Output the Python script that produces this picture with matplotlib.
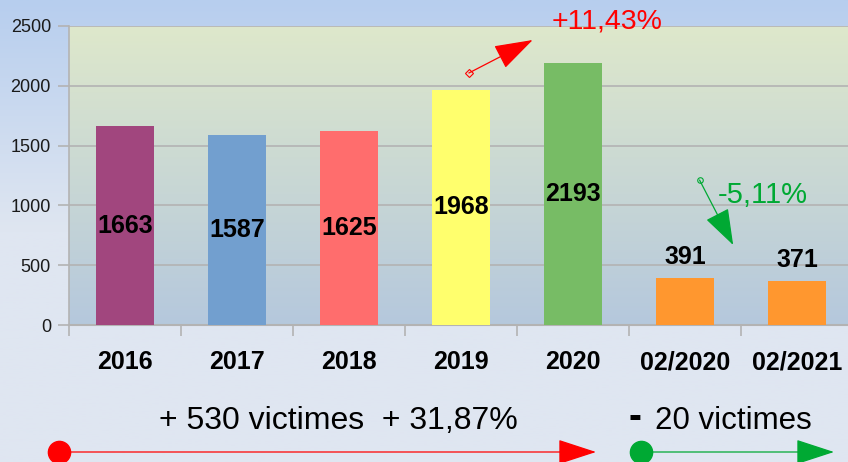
import matplotlib
matplotlib.use("Agg")
import matplotlib.pyplot as plt
import numpy as np
from matplotlib.colors import LinearSegmentedColormap
from matplotlib.patches import FancyArrowPatch
from matplotlib.lines import Line2D

plt.rcParams['font.family'] = ['Liberation Sans', 'DejaVu Sans']

# --- données ---
categories = ['2016', '2017', '2018', '2019', '2020', '02/2020', '02/2021']
victimes = [1663, 1587, 1625, 1968, 2193, 391, 371]
couleurs = ['#a1467e', '#729fcf', '#ff6d6d', '#ffff6d', '#77bc65', '#ff972f', '#ff972f']
labels_dedans = [True, True, True, True, True, False, False]
yticks = [0, 500, 1000, 1500, 2000, 2500]

W, H = 848, 462
fig = plt.figure(figsize=(W / 100, H / 100), dpi=100)

# fond de la figure (dégradé vertical)
bg = fig.add_axes([0, 0, 1, 1], zorder=-10)
fond = LinearSegmentedColormap.from_list('fond', ['#dfe6f1', '#dfe6f1', '#b7ceee'])
bg.imshow(np.linspace(0, 1, 256).reshape(-1, 1)[::-1], cmap=fond, aspect='auto',
          extent=[0, 1, 0, 1], origin='upper')
bg.set_xlim(0, 1)
bg.set_ylim(0, 1)
bg.axis('off')

ax = fig.add_axes([69 / W, (H - 325) / H, 784 / W, 299 / H])
ax.set_facecolor('none')
ax.set_xlim(-0.5, len(categories) - 0.5)
ax.set_ylim(0, 2500)

# fond de la zone de tracé (dégradé)
zone = LinearSegmentedColormap.from_list('zone', ['#b5c8dd', '#dee8cb'])
ax.imshow(np.linspace(0, 1, 256).reshape(-1, 1), cmap=zone, aspect='auto',
          extent=[-0.5, len(categories) - 0.5, 0, 2500], origin='lower', zorder=0)

x = np.arange(len(categories))
ax.bar(x, victimes, width=0.51, color=couleurs, zorder=3)

for xi, v, dedans in zip(x, victimes, labels_dedans):
    if dedans:
        ax.text(xi, v / 2, str(v), ha='center', va='center', fontsize=18,
                fontweight='bold', zorder=4)
    else:
        ax.text(xi, v + 175, str(v), ha='center', va='center', fontsize=18,
                fontweight='bold', zorder=4)

ax.set_yticks(yticks)
ax.set_yticklabels([str(t) for t in yticks], fontsize=13, color='#1a1a1a')
ax.yaxis.grid(True, color='#b3b3b3', linewidth=1.2, zorder=1)
ax.set_axisbelow(True)
ax.tick_params(axis='y', length=8, color='#b3b3b3', width=1.2, pad=5)

ax.set_xticks(x - 0.5, minor=False)
ax.set_xticklabels([])
ax.tick_params(axis='x', length=8, color='#b3b3b3', width=1.2)
ax.set_xticks(x, minor=True)
ax.set_xticklabels(categories, minor=True, fontsize=18, fontweight='bold')
ax.tick_params(axis='x', which='minor', length=0, pad=18)

for s in ['top', 'right']:
    ax.spines[s].set_visible(False)
ax.spines['left'].set_color('#b3b3b3')
ax.spines['bottom'].set_color('#b3b3b3')
ax.spines['left'].set_linewidth(1.2)
ax.spines['bottom'].set_linewidth(1.5)

# flèche rouge +11,43%
ax.plot([3.07], [2107], marker='D', markersize=4, markerfacecolor='none',
        markeredgecolor='red', markeredgewidth=0.8, zorder=5, clip_on=False)
ax.add_patch(FancyArrowPatch((3.07, 2107), (3.64, 2383),
                             arrowstyle='-|>,head_length=24.5,head_width=8',
                             mutation_scale=1, color='red', linewidth=0.9, zorder=5,
                             clip_on=False, shrinkA=0, shrinkB=0))
ax.text(4.30, 2540, '+11,43%', color='red', fontsize=20.5, ha='center', va='center',
        clip_on=False)

# flèche verte -5,11%
ax.plot([5.13], [1212], marker='o', markersize=4, markerfacecolor='none',
        markeredgecolor='#00a933', markeredgewidth=0.8, zorder=5)
ax.add_patch(FancyArrowPatch((5.13, 1212), (5.43, 669),
                             arrowstyle='-|>,head_length=23,head_width=8',
                             mutation_scale=1, color='#00a933', linewidth=0.9, zorder=5,
                             shrinkA=0, shrinkB=0))
ax.text(5.29, 1085, '-5,11%', color='#00a933', fontsize=21, ha='left', va='center')


# texte et flèches du bas (coordonnées figure)
def fx(px):
    return px / W


def fy(py):
    return 1 - py / H


fig.text(fx(159), fy(421), '+ 530 victimes  + 31,87%', fontsize=23, va='center', ha='left')
fig.text(fx(629), fy(418), '-', fontsize=28, fontweight='bold', va='center', ha='left')
fig.text(fx(655), fy(421), '20 victimes', fontsize=22.5, va='center', ha='left')

for x0, x1, c in [(59, 596, 'red'), (641, 834, '#00a933')]:
    fig.add_artist(FancyArrowPatch((fx(x0), fy(452)), (fx(x1), fy(452)),
                                   transform=fig.transFigure,
                                   arrowstyle='-|>,head_length=24.5,head_width=8',
                                   mutation_scale=1, color=c, linewidth=0.9,
                                   shrinkA=0, shrinkB=0))
    fig.add_artist(Line2D([fx(x0)], [fy(452)], transform=fig.transFigure,
                          marker='o', markersize=16, color=c, linestyle='none'))

fig.savefig('out.png', dpi=100)
